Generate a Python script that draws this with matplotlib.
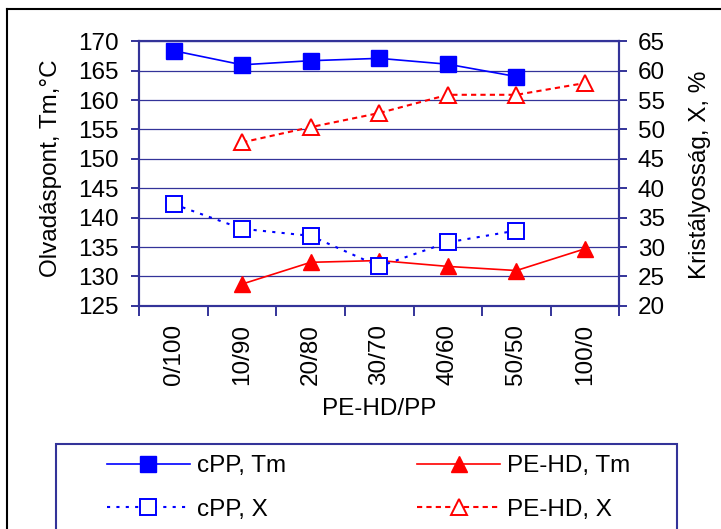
import numpy as np
import matplotlib
matplotlib.use("Agg")
import matplotlib.pyplot as plt
from matplotlib.lines import Line2D
from matplotlib.patches import Rectangle

plt.rcParams['font.family'] = ['Liberation Sans', 'DejaVu Sans']

categories = ["0/100", "10/90", "20/80", "30/70", "40/60", "50/50", "100/0"]
cpp_tm = [168.4, 166.0, 166.7, 167.1, 166.1, 164.0, np.nan]
pehd_tm = [np.nan, 128.7, 132.4, 132.7, 131.7, 131.0, 134.7]
cpp_x = [37.3, 33.1, 31.9, 26.7, 30.8, 32.8, np.nan]
pehd_x = [np.nan, 47.8, 50.4, 52.8, 55.9, 55.9, 57.9]
left_ticks = [125, 130, 135, 140, 145, 150, 155, 160, 165, 170]
right_ticks = [20, 25, 30, 35, 40, 45, 50, 55, 60, 65]

W, H = 721, 529
FS = 17.5
NAVY = '#333399'
BLUE = '#0000FF'
RED = '#FF0000'

fig = plt.figure(figsize=(W / 100, H / 100), dpi=100)
ax = fig.add_axes([139.3 / W, 1 - 305.8 / H, 480 / W, 264.5 / H])
ax2 = ax.twinx()

x = np.arange(len(categories))

l1, = ax.plot(x, cpp_tm, color=BLUE, lw=1.2, marker='s', ms=11.5,
              mfc=BLUE, mec=BLUE, label='cPP, Tm', zorder=3)
l2, = ax.plot(x, pehd_tm, color=RED, lw=1.2, marker='^', ms=12,
              mfc=RED, mec=RED, label='PE-HD, Tm', zorder=3)
l3, = ax2.plot(x, cpp_x, color=BLUE, lw=1.5, ls=(0, (1.5, 3)), marker='s', ms=11.5,
               mfc='white', mec=BLUE, mew=1.4, label='cPP, X', zorder=3)
l4, = ax2.plot(x, pehd_x, color=RED, lw=1.5, ls=(0, (2.5, 2)), marker='^', ms=12,
               mfc='white', mec=RED, mew=1.4, label='PE-HD, X', zorder=3)

ax.set_xlim(-0.5, len(categories) - 0.5)
ax.set_ylim(125, 170)
ax2.set_ylim(20, 65)
ax.set_yticks(left_ticks)
ax2.set_yticks(right_ticks)

ax.set_xticks(np.arange(len(categories) + 1) - 0.5)
ax.set_xticklabels([])
ax.set_xticks(x, minor=True)
ax.set_xticklabels(categories, minor=True, rotation=90, fontsize=FS)
ax.tick_params(axis='x', which='major', direction='out', length=7.2, width=1.4, color=NAVY)
ax.tick_params(axis='x', which='minor', length=0, pad=13)

ax.tick_params(axis='y', direction='out', length=5.8, width=1.4, color=NAVY,
               labelsize=FS, pad=9)
ax2.tick_params(axis='y', direction='out', length=5.8, width=1.4, color=NAVY,
                labelsize=FS, pad=7.5)

for a in (ax, ax2):
    for s in a.spines.values():
        s.set_color(NAVY)
        s.set_linewidth(1.5)

ax.yaxis.grid(True, color=NAVY, lw=0.9)
ax.set_axisbelow(True)

fig.text(51 / W, 1 - 168 / H, 'Olvadáspont, Tm,°C', rotation=90,
         ha='center', va='center', fontsize=FS)
fig.text(700 / W, 1 - 174.5 / H, 'Kristályosság, X, %', rotation=90,
         ha='center', va='center', fontsize=FS)
fig.text(379.3 / W, 1 - 398 / H, 'PE-HD/PP', ha='center', va='top', fontsize=FS)

fig.legend(handles=[l1, l3, l2, l4], ncol=2, loc='upper left',
           bbox_to_anchor=(107 / W, 1 - 455 / H), frameon=False,
           fontsize=FS, numpoints=1, handlelength=3.4, handletextpad=0.3,
           columnspacing=5.4, labelspacing=0.9, borderpad=0, borderaxespad=0)

fig.add_artist(Rectangle((55.7 / W, -0.1), (676.7 - 55.7) / W, (1 - 444 / H) + 0.1,
                         transform=fig.transFigure, fill=False, edgecolor=NAVY, lw=1.5))
fig.add_artist(Line2D([7.3 / W, 7.3 / W], [-0.1, 1 - 9.3 / H],
                      transform=fig.transFigure, color='black', lw=1.5))
fig.add_artist(Line2D([7.3 / W, 1.1], [1 - 9.3 / H, 1 - 9.3 / H],
                      transform=fig.transFigure, color='black', lw=1.5))

fig.savefig('out.png', dpi=100)
